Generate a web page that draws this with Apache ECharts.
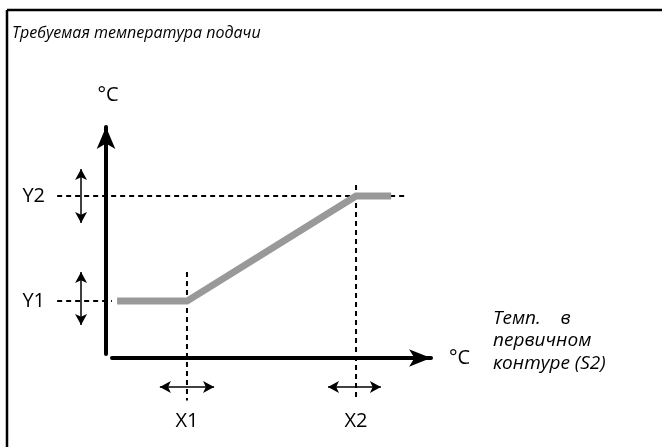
<!DOCTYPE html>
<html>
<head>
<meta charset="utf-8">
<script src="https://cdn.jsdelivr.net/npm/echarts@6/dist/echarts.min.js"></script>
<style>
  html, body { margin: 0; padding: 0; background: #fff; }
  #chart { width: 662px; height: 447px; }
</style>
</head>
<body>
<div id="chart"></div>
<script>
// Flow temperature curve: flat at Y1 up to X1, rising to Y2 at X2, flat after.
const curveX = [1.6, 23.5, 76.5, 87.5];
const curveY = [23.3, 23.3, 69.6, 69.6];

// Break points and their labels
const markX = [23.5, 76.5];
const markY = [23.3, 69.6];
const xLabels = ['X1', 'X2'];
const yLabels = ['Y1', 'Y2'];

// Extents of the dashed guides and adjustment arrows
const guideLeft = -17.2;
const guideRight = 92.5;
const guideTopX = [36.1, 74.4];
const guideBottom = -20.5;
const arrowXPos = -9.7;
const yArrowSpan = [[12.8, 36.1], [57.7, 81.5]];
const arrowYPos = -14.5;
const xArrowSpan = [[15.0, 32.0], [67.7, 84.3]];

const titleText = 'Требуемая температура подачи';
const xNameText = ['Темп.    в', 'первичном', 'контуре (S2)'];
const unitText = '°C';

const FONT = '"Open Sans", "Noto Sans", sans-serif';
const W = 662, H = 447;
const plot = { left: 112, right: 231, top: 127, bottom: 93 };
const range = [0, 100];

// A second, invisible grid spans the whole canvas with the same scale,
// so guides and arrows can reach outside the plotted axes.
const pxX = (W - plot.left - plot.right) / (range[1] - range[0]);
const pxY = (H - plot.top - plot.bottom) / (range[1] - range[0]);
const wideX = [range[0] - plot.left / pxX, range[1] + plot.right / pxX];
const wideY = [range[0] - plot.bottom / pxY, range[1] + plot.top / pxY];

const chart = echarts.init(document.getElementById('chart'), null, { renderer: 'canvas' });

const dashed = { color: '#000', width: 2, type: [5, 4] };
const onWide = { xAxisIndex: 1, yAxisIndex: 1 };

const series = [];
// horizontal guides at Y1 and Y2
series.push(Object.assign({
  type: 'line', silent: true, symbol: 'none', z: 1,
  lineStyle: dashed,
  data: [[guideLeft, markY[0]], [0, markY[0]]]
}, onWide));
series.push(Object.assign({
  type: 'line', silent: true, symbol: 'none', z: 1,
  lineStyle: dashed,
  data: [[guideLeft, markY[1]], [guideRight, markY[1]]]
}, onWide));
// vertical guides at X1 and X2
markX.forEach((x, i) => {
  series.push(Object.assign({
    type: 'line', silent: true, symbol: 'none', z: 1,
    lineStyle: dashed,
    data: [[x, guideTopX[i]], [x, guideBottom]]
  }, onWide));
});
// adjustment arrows
series.push(Object.assign({
  type: 'line', silent: true, symbol: 'none', data: [],
  markLine: {
    silent: true,
    symbol: ['arrow', 'arrow'],
    symbolSize: [9, 11],
    label: { show: false },
    lineStyle: { color: '#000', width: 1.5, type: 'solid' },
    emphasis: { disabled: true },
    data: yArrowSpan.map(s => [{ coord: [arrowXPos, s[0]] }, { coord: [arrowXPos, s[1]] }])
      .concat(xArrowSpan.map(s => [{ coord: [s[0], arrowYPos] }, { coord: [s[1], arrowYPos] }]))
  }
}, onWide));
// the curve itself
series.push({
  type: 'line', silent: true, symbol: 'none', z: 3,
  xAxisIndex: 0, yAxisIndex: 0,
  lineStyle: { color: '#999999', width: 7, cap: 'butt', join: 'miter' },
  data: curveX.map((x, i) => [x, curveY[i]])
});

const hiddenAxis = (min, max) => ({
  type: 'value', gridIndex: 1, min: min, max: max, show: false,
  axisLine: { show: false }, axisTick: { show: false }, axisLabel: { show: false }, splitLine: { show: false }
});

chart.setOption({
  animation: false,
  backgroundColor: '#fff',
  title: {
    text: titleText,
    left: 7, top: 20,
    textStyle: { fontFamily: FONT, fontStyle: 'italic', fontWeight: 'normal', fontSize: 16, color: '#000' }
  },
  grid: [
    { left: plot.left, right: plot.right, top: plot.top, bottom: plot.bottom },
    { left: 0, right: 0, top: 0, bottom: 0 }
  ],
  xAxis: [{
    type: 'value', gridIndex: 0, min: range[0], max: range[1], offset: 4,
    name: unitText, nameLocation: 'end', nameGap: 18,
    nameTextStyle: { fontFamily: FONT, fontSize: 20, color: '#000', verticalAlign: 'middle', padding: [7, 0, 0, 0] },
    axisLine: { show: true, onZero: false, symbol: ['none', 'arrow'], symbolSize: [13, 22],
      lineStyle: { color: '#000', width: 4 } },
    axisTick: { show: false },
    splitLine: { show: false },
    axisLabel: {
      customValues: markX,
      margin: 53,
      fontFamily: FONT, fontSize: 20, color: '#000',
      formatter: v => xLabels[markX.indexOf(v)]
    }
  }, hiddenAxis(wideX[0], wideX[1])],
  yAxis: [{
    type: 'value', gridIndex: 0, min: range[0], max: range[1], offset: 6,
    name: unitText, nameLocation: 'end', nameGap: 22,
    nameTextStyle: { fontFamily: FONT, fontSize: 20, color: '#000', padding: [0, 0, 0, 4] },
    axisLine: { show: true, onZero: false, symbol: ['none', 'arrow'], symbolSize: [14, 22],
      lineStyle: { color: '#000', width: 4 } },
    axisTick: { show: false },
    splitLine: { show: false },
    axisLabel: {
      customValues: markY,
      margin: 61,
      fontFamily: FONT, fontSize: 20, color: '#000',
      formatter: v => yLabels[markY.indexOf(v)]
    }
  }, hiddenAxis(wideY[0], wideY[1])],
  graphic: [
    { type: 'line', silent: true, shape: { x1: 7, y1: 10, x2: 662, y2: 10 }, style: { stroke: '#000', lineWidth: 2.5 } },
    { type: 'line', silent: true, shape: { x1: 7, y1: 10, x2: 7, y2: 447 }, style: { stroke: '#000', lineWidth: 2.5 } },
    {
      type: 'text', left: 493, top: 307, silent: true,
      style: {
        text: xNameText.join('\n'),
        font: 'italic 19px ' + FONT,
        lineHeight: 22.5,
        fill: '#000'
      }
    }
  ],
  series: series
});
</script>
</body>
</html>
